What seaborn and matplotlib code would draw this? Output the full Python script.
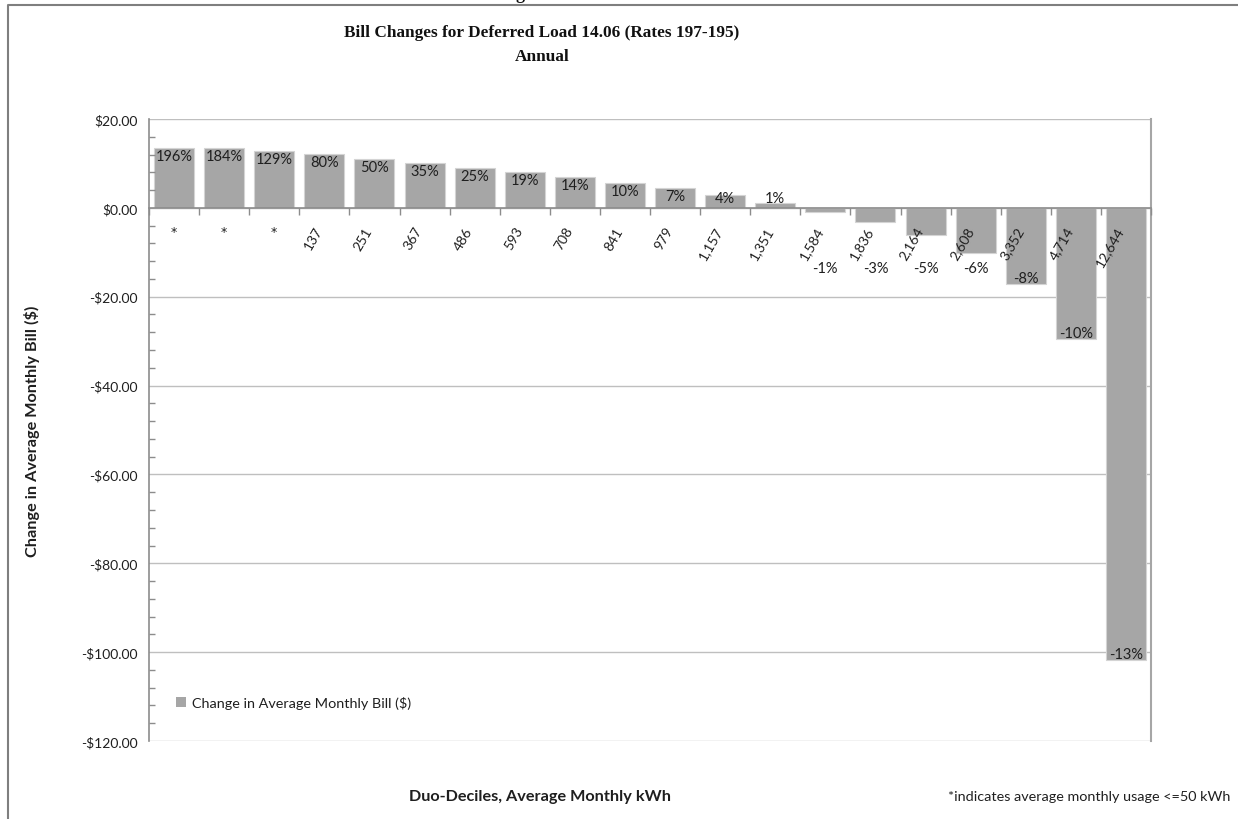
import matplotlib
matplotlib.use("Agg")
import matplotlib.pyplot as plt
from matplotlib.lines import Line2D
from matplotlib.patches import Patch
from matplotlib.ticker import MultipleLocator, FuncFormatter
import numpy as np
import pandas as pd
import seaborn as sns

# Duo-decile usage labels (average monthly kWh); "*" marks usage <= 50 kWh
usage_labels = ["*", "*", "*", "137", "251", "367", "486", "593", "708", "841",
                "979", "1,157", "1,351", "1,584", "1,836", "2,164", "2,608",
                "3,352", "4,714", "12,644"]
# Change in average monthly bill ($)
bill_change = [13.5, 13.4, 12.9, 12.1, 11.1, 10.1, 9.0, 8.0, 6.9, 5.7,
               4.5, 2.8, 1.2, -1.0, -3.2, -6.2, -10.1, -17.1, -29.5, -101.8]
# Percent change labels
pct_labels = ["196%", "184%", "129%", "80%", "50%", "35%", "25%", "19%", "14%",
              "10%", "7%", "4%", "1%", "-1%", "-3%", "-5%", "-6%", "-8%",
              "-10%", "-13%"]

series_name = "Change in Average Monthly Bill ($)"

sns.set_theme(style="white")
plt.rcParams["font.family"] = ["Lato", "DejaVu Sans"]

BAR = "#A6A6A6"
AXIS = "#8C8C8C"
GRID = "#BFBFBF"
TXT = "#1F1F1F"

df = pd.DataFrame({"pos": np.arange(len(bill_change)), "change": bill_change})

fig = plt.figure(figsize=(12.38, 8.2), dpi=100)
ax = fig.add_axes([149 / 1238, 78 / 820, 1002 / 1238, 622 / 820])

# horizontal gridlines sit beneath the bars; axis labels stay on top
for gy in range(-120, 21, 20):
    ax.axhline(gy, color=GRID, linewidth=1, zorder=0)

sns.barplot(data=df, x="pos", y="change", color=BAR, width=0.8,
            edgecolor="#D4D4D4", linewidth=0.8, saturation=1, ax=ax, zorder=1)

ax.set_xlim(-0.5, len(bill_change) - 0.5)
ax.set_ylim(-120, 20)

# y axis: dollar format, major every $20, minor every $4
ax.yaxis.set_major_locator(MultipleLocator(20))
ax.yaxis.set_minor_locator(MultipleLocator(4))
ax.yaxis.set_major_formatter(FuncFormatter(
    lambda v, _: f"-${abs(v):,.2f}" if v < 0 else f"${v:,.2f}"))
ax.tick_params(axis="y", which="major", direction="inout", length=8, width=1,
               color=AXIS, labelsize=10, labelcolor=TXT, pad=4)
ax.tick_params(axis="y", which="minor", direction="in", length=4, width=1,
               color=AXIS, left=True)
ax.grid(False)
ax.set_axisbelow(False)

# category axis sits on the zero line
ax.spines["bottom"].set_position(("data", 0))
ax.spines["bottom"].set_color(AXIS)
ax.spines["bottom"].set_linewidth(1.2)
ax.spines["left"].set_color(AXIS)
ax.spines["left"].set_linewidth(1.2)
ax.spines["right"].set_color("#A6A6A6")
ax.spines["right"].set_linewidth(1.5)
ax.spines["top"].set_visible(False)

ax.set_xticks(np.arange(len(usage_labels)))
ax.set_xticks(np.arange(len(usage_labels) + 1) - 0.5, minor=True)
ax.set_xticklabels(usage_labels, rotation=60, ha="right", va="top",
                   fontsize=10, color=TXT)
ax.tick_params(axis="x", which="major", length=0, pad=12)
ax.tick_params(axis="x", which="minor", direction="out", length=5, width=1,
               color=AXIS, bottom=True)
for lab in ax.get_xticklabels():
    if lab.get_text() == "*":
        lab.set_rotation(0)
        lab.set_ha("center")
        lab.set_family(["DejaVu Sans"])
        lab.set_fontsize(9)
ax.set_xlabel("")
ax.set_ylabel("")

# percent-change data labels
for i, (v, t) in enumerate(zip(bill_change, pct_labels)):
    if v >= 0:
        y = max(v - 1.8, 2.2)
    else:
        y = min(v + 1.3, -13.5)
    ax.text(i, y, t, ha="center", va="center", fontsize=10.5, color=TXT,
            zorder=5)

leg = ax.legend(handles=[Patch(facecolor=BAR, edgecolor="none", label=series_name)],
                loc="lower left", bbox_to_anchor=(0.017, 0.035), frameon=False,
                fontsize=10.4, handlelength=0.7, handleheight=0.7,
                handletextpad=0.4, borderaxespad=0.3)
for t in leg.get_texts():
    t.set_color(TXT)

# titles and axis titles
fig.text(542 / 1238, 1 - 33 / 820, "Bill Changes for Deferred Load 14.06 (Rates 197-195)",
         ha="center", va="center", fontsize=12.4, fontweight="bold",
         family="Liberation Serif", color="#111111")
fig.text(542 / 1238, 1 - 57 / 820, "Annual", ha="center", va="center",
         fontsize=12.4, fontweight="bold", family="Liberation Serif", color="#111111")
fig.text(32 / 1238, 1 - 431 / 820, "Change in Average Monthly Bill ($)",
         rotation=90, ha="center", va="center", fontsize=11.7,
         fontweight="bold", color=TXT)
fig.text(540 / 1238, 1 - 797 / 820, "Duo-Deciles, Average Monthly kWh",
         ha="center", va="center", fontsize=11.7, fontweight="bold", color=TXT)
fig.text(1230 / 1238, 1 - 797 / 820, "*indicates average monthly usage <=50 kWh",
         ha="right", va="center", fontsize=10.4, color=TXT)

# outer chart frame (top and left edges) with a clipped heading above it
fig.add_artist(Line2D([8 / 1238, 8 / 1238, 1.0], [0.0, 1 - 6 / 820, 1 - 6 / 820],
                      transform=fig.transFigure, color="#7F7F7F", linewidth=1.5))
fig.text(520 / 1238, 1 + 1 / 820, "g", ha="center", va="baseline",
         fontsize=13, fontweight="bold", family="Liberation Serif", color="#111111")

fig.savefig("out.png", dpi=100)
